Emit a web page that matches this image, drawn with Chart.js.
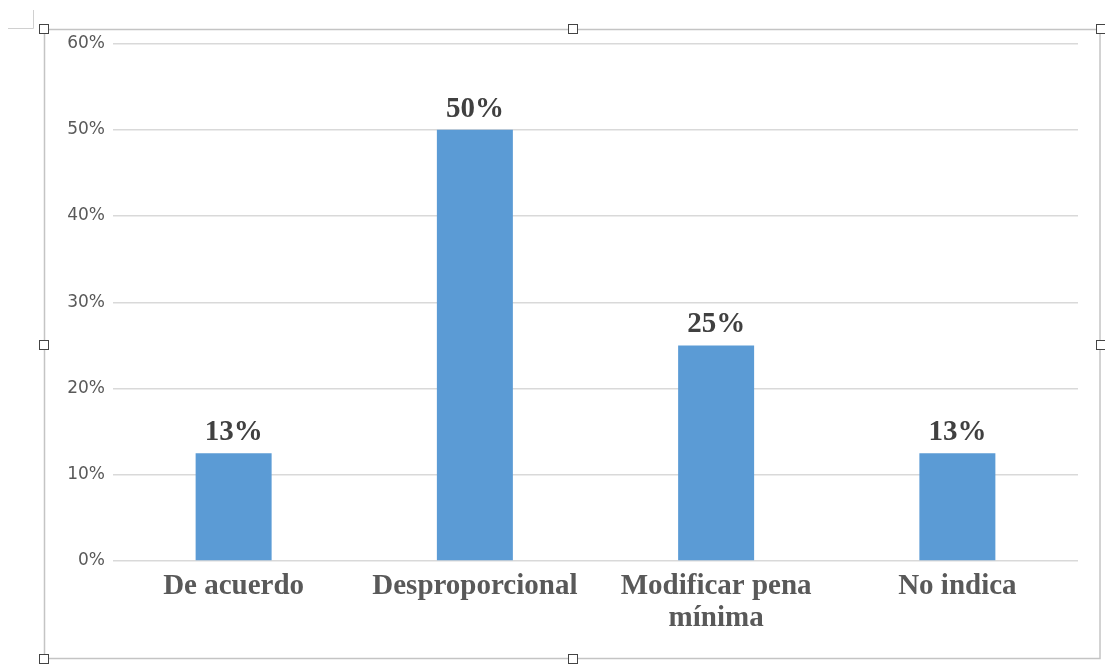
<!DOCTYPE html>
<html>
<head>
<meta charset="utf-8">
<script src="https://cdn.jsdelivr.net/npm/chart.js@4.4.1/dist/chart.umd.min.js"></script>
<style>
  html, body { margin: 0; padding: 0; background: #ffffff; }
  #wrap { width: 1105px; height: 665px; position: relative; }
</style>
</head>
<body>
<div id="wrap"><canvas id="c" width="1105" height="665"></canvas></div>
<script>
const categories = ['De acuerdo', 'Desproporcional', ['Modificar pena', 'mínima'], 'No indica'];
const values = [12.5, 50, 25, 12.5];
const valueLabels = ['13%', '50%', '25%', '13%'];
const yTickValues = [0, 10, 20, 30, 40, 50, 60];

const frameDecor = {
  id: 'frameDecor',
  afterDraw(chart) {
    const ctx = chart.ctx;
    ctx.save();
    // corner mark top-left
    ctx.strokeStyle = '#d0d0d0';
    ctx.lineWidth = 1;
    ctx.beginPath();
    ctx.moveTo(33.5, 10); ctx.lineTo(33.5, 28.5); ctx.lineTo(8, 28.5);
    ctx.stroke();
    // frame
    ctx.strokeStyle = '#c4c4c4';
    ctx.lineWidth = 1.5;
    ctx.strokeRect(44.5, 29.5, 1055.5, 629);
    // handles
    const hs = [[44, 29], [573, 29], [1101, 29], [44, 345], [1101, 345], [44, 659], [573, 659]];
    hs.forEach(([x, y]) => {
      ctx.fillStyle = '#ffffff';
      ctx.fillRect(x - 5, y - 5, 10, 10);
      ctx.strokeStyle = '#444444';
      ctx.lineWidth = 1;
      ctx.strokeRect(x - 4.5, y - 4.5, 9, 9);
    });
    ctx.restore();
  }
};

const valueLabelPlugin = {
  id: 'valueLabelPlugin',
  afterDatasetsDraw(chart) {
    const ctx = chart.ctx;
    const meta = chart.getDatasetMeta(0);
    ctx.save();
    ctx.font = 'bold 29px "Liberation Serif", "Times New Roman", serif';
    ctx.fillStyle = '#404040';
    ctx.textAlign = 'center';
    ctx.textBaseline = 'alphabetic';
    meta.data.forEach((bar, i) => {
      ctx.fillText(valueLabels[i], bar.x, bar.y - 13);
    });
    ctx.restore();
  }
};

new Chart(document.getElementById('c'), {
  type: 'bar',
  data: {
    labels: categories,
    datasets: [{
      data: values,
      backgroundColor: '#5B9BD5',
      borderWidth: 0,
      categoryPercentage: 1,
      barPercentage: 0.315
    }]
  },
  options: {
    responsive: false,
    animation: false,
    devicePixelRatio: 1,
    layout: { padding: { top: 43.5, right: 27, bottom: 0, left: 0 } },
    plugins: {
      legend: { display: false },
      tooltip: { enabled: false }
    },
    scales: {
      x: {
        grid: { display: false, drawTicks: false },
        border: { display: false },
        ticks: {
          autoSkip: false,
          maxRotation: 0,
          minRotation: 0,
          padding: 10,
          color: '#595959',
          font: { family: '"Liberation Serif", "Times New Roman", serif', size: 29, weight: 'bold', lineHeight: 1.1 }
        },
        afterFit(scale) { scale.height = 104; }
      },
      y: {
        min: 0,
        max: 60,
        afterBuildTicks(scale) { scale.ticks = yTickValues.map(v => ({ value: v })); },
        grid: { color: '#d9d9d9', lineWidth: 1.5, drawTicks: false },
        border: { display: false },
        ticks: {
          padding: 8,
          color: '#595959',
          font: { family: '"DejaVu Sans", sans-serif', size: 17 },
          callback: v => v + '%'
        },
        afterFit(scale) { scale.width = 113; }
      }
    }
  },
  plugins: [frameDecor, valueLabelPlugin]
});
</script>
</body>
</html>
